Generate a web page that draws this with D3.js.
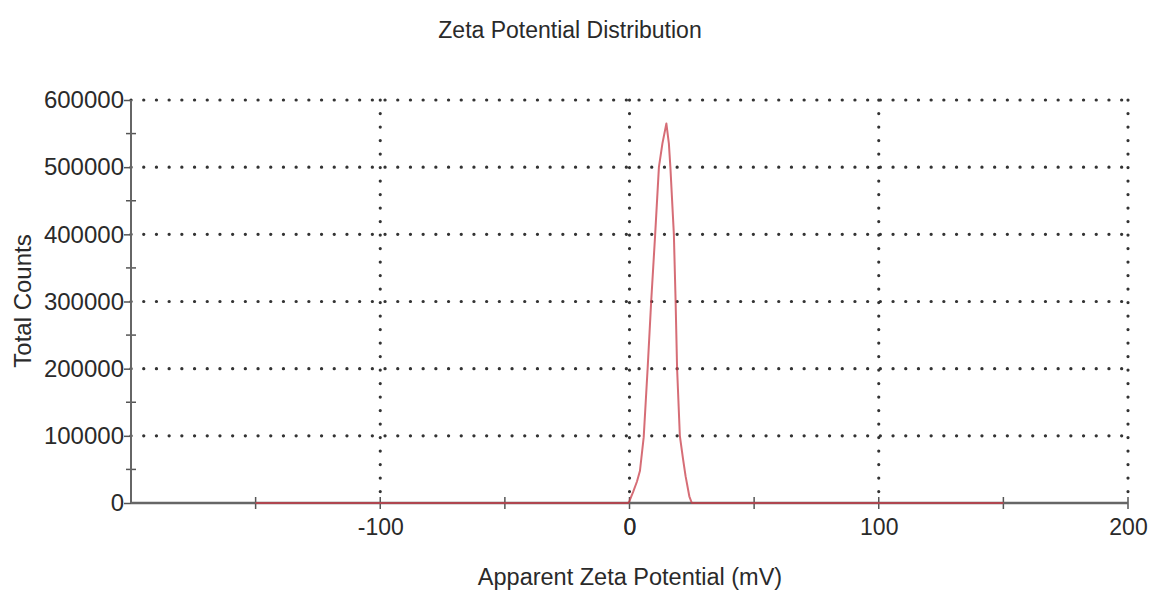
<!DOCTYPE html>
<meta charset="utf-8">
<script src="https://d3js.org/d3.v7.min.js"></script>
<style>
  body { margin: 0; background: #fff; }
  text { font-family: "Liberation Sans", Arial, sans-serif; fill: #2a2a2a; }
</style>
<div id="my_dataviz"></div>
<script>

// data
const zeta   = [-150, -0.5, 0, 1.5, 3, 4.2, 5.7, 6.5, 7.3, 8.7, 10.3, 11.8, 13.2, 14.8, 15.8, 16.4, 17.8, 18.5, 19.1, 20.2, 21.5, 22.5, 24, 25, 150];
const counts = [0, 0, 3000, 17000, 32000, 48000, 98000, 150000, 202000, 300000, 400000, 500000, 535000, 565000, 535000, 500000, 400000, 300000, 200000, 100000, 65000, 40000, 10000, 0, 0];
const xMajor = [-100, 0, 100, 200];
const xMinor = [-150, -50, 50, 150];
const yMajor = [0, 100000, 200000, 300000, 400000, 500000, 600000];
const yMinor = [50000, 150000, 250000, 350000, 450000, 550000];

const W = 1155, H = 590;
const plot = {left: 131, right: 1128, top: 100, bottom: 503};

var svg = d3.select("#my_dataviz")
  .append("svg")
    .attr("width", W)
    .attr("height", H);

var x = d3.scaleLinear().domain([-200, 200]).range([plot.left, plot.right]);
var y = d3.scaleLinear().domain([0, 600000]).range([plot.bottom, plot.top]);

// dotted grid
svg.selectAll("hgrid")
  .data(yMajor.filter(d => d > 0))
  .enter()
  .append("line")
    .attr("x1", plot.left).attr("x2", plot.right)
    .attr("y1", d => y(d)).attr("y2", d => y(d))
    .style("stroke", "#333")
    .style("stroke-width", 3.2)
    .style("stroke-linecap", "round")
    .style("stroke-dasharray", "0.1,12.6");

svg.selectAll("vgrid")
  .data(xMajor)
  .enter()
  .append("line")
    .attr("x1", d => x(d)).attr("x2", d => x(d))
    .attr("y1", plot.top).attr("y2", plot.bottom)
    .style("stroke", "#333")
    .style("stroke-width", 3.2)
    .style("stroke-linecap", "round")
    .style("stroke-dasharray", "0.1,13.4");

// y axis
var yAxis = svg.append("g")
  .attr("transform", "translate(" + plot.left + ",0)")
  .call(d3.axisLeft(y).tickValues(yMajor).tickSize(7).tickFormat(d => String(d)));
yAxis.select(".domain").remove();
yAxis.selectAll("line").attr("stroke", "#555").attr("stroke-width", 1.5);
yAxis.selectAll("text")
  .attr("x", -7)
  .style("font-size", "24px")
  .style("fill", "#2a2a2a");
svg.selectAll("yminor")
  .data(yMinor)
  .enter()
  .append("line")
    .attr("x1", plot.left - 5).attr("x2", plot.left + 5)
    .attr("y1", d => y(d)).attr("y2", d => y(d))
    .style("stroke", "#555")
    .style("stroke-width", 1.5);

// x axis
var xAxis = svg.append("g")
  .attr("transform", "translate(0," + plot.bottom + ")")
  .call(d3.axisBottom(x).tickValues(xMajor.concat([0])).tickSize(0).tickFormat(d => String(d)));
xAxis.select(".domain").remove();
xAxis.selectAll("text")
  .attr("y", 16)
  .style("font-size", "23px")
  .style("fill", "#2a2a2a");
svg.selectAll("xticks")
  .data(xMajor.concat(xMinor))
  .enter()
  .append("line")
    .attr("x1", d => x(d)).attr("x2", d => x(d))
    .attr("y1", plot.bottom - 6).attr("y2", plot.bottom + 6)
    .style("stroke", "#555")
    .style("stroke-width", 1.5);

// axis lines
svg.append("line")
  .attr("x1", plot.left).attr("x2", plot.left).attr("y1", plot.top).attr("y2", plot.bottom)
  .style("stroke", "#666").style("stroke-width", 2);
svg.append("line")
  .attr("x1", plot.left).attr("x2", plot.right).attr("y1", plot.bottom).attr("y2", plot.bottom)
  .style("stroke", "#666").style("stroke-width", 2.6);

// the distribution
var line = d3.line()
  .x((d, i) => x(zeta[i]))
  .y(d => y(d));
svg.append("path")
  .datum(counts)
  .attr("d", line)
  .style("fill", "none")
  .style("stroke", "#c83c48")
  .style("stroke-opacity", 0.75)
  .style("stroke-width", 2)
  .style("stroke-linejoin", "round");

// titles
svg.append("text")
  .attr("x", 570).attr("y", 38)
  .attr("text-anchor", "middle")
  .style("font-size", "23px")
  .text("Zeta Potential Distribution");

svg.append("text")
  .attr("x", 630).attr("y", 585)
  .attr("text-anchor", "middle")
  .style("font-size", "23.5px")
  .text("Apparent Zeta Potential (mV)");

svg.append("text")
  .attr("transform", "translate(31,301) rotate(-90)")
  .attr("text-anchor", "middle")
  .style("font-size", "24px")
  .text("Total Counts");

</script>
